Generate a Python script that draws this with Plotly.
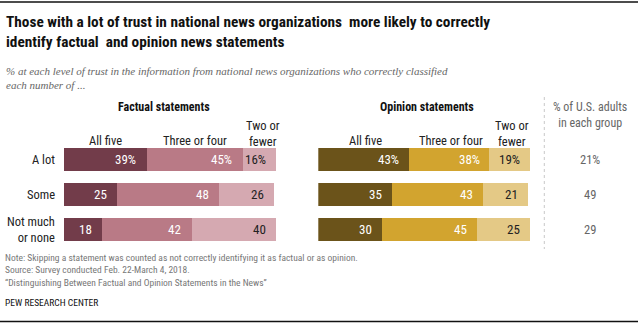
import plotly.graph_objects as go

# Trust levels (rows) and the share of U.S. adults in each group
trust_levels = ["A lot", "Some", "Not much<br>or none"]
group_share = ["21%", "49", "29"]

# Percent who correctly classified all five / three or four / two or fewer statements
factual_all_five = [39, 25, 18]
factual_three_four = [45, 48, 42]
factual_two_fewer = [16, 26, 40]

opinion_all_five = [43, 35, 30]
opinion_three_four = [38, 43, 45]
opinion_two_fewer = [19, 21, 25]

segment_names = ["All five", "Three or four", "Two or<br>fewer"]
factual_colors = ["#723c4a", "#b97a86", "#d5a9b1"]
opinion_colors = ["#6b531a", "#d2a42f", "#e4c986"]

W, H = 638, 325
LABEL_FONT = "Liberation Sans Narrow, Roboto Condensed, Arial Narrow, Liberation Sans, sans-serif"
TITLE_FONT = LABEL_FONT
SERIF = "Liberation Serif, DejaVu Serif, serif"


def px(x):
    return x / W


def py(y):
    return 1 - y / H


rows = list(range(len(trust_levels)))
fig = go.Figure()

panels = [
    ("x", "y", [factual_all_five, factual_three_four, factual_two_fewer], factual_colors),
    ("x2", "y2", [opinion_all_five, opinion_three_four, opinion_two_fewer], opinion_colors),
]

annotations = []
for xa, ya, series, colors in panels:
    for k, (vals, col) in enumerate(zip(series, colors)):
        fig.add_trace(go.Bar(
            x=vals, y=rows, orientation="h", marker=dict(color=col, line=dict(width=0)),
            width=0.63, xaxis=xa, yaxis=ya, showlegend=False, hoverinfo="skip",
        ))
    # value labels, right-aligned inside each segment
    for r in rows:
        cum = 0
        for k, vals in enumerate(series):
            cum += vals[r]
            txt = f"{vals[r]}%" if r == 0 else f"{vals[r]}"
            annotations.append(dict(
                x=cum, y=r, xref=xa, yref=ya, text=txt, showarrow=False,
                xanchor="right", yanchor="middle", xshift=-8,
                font=dict(family=LABEL_FONT, size=13,
                          color="#ffffff" if k < 2 else "#222222"),
            ))

fig.update_layout(
    barmode="stack",
    width=W, height=H,
    margin=dict(l=0, r=0, t=0, b=0),
    paper_bgcolor="white", plot_bgcolor="white",
    bargap=0,
    xaxis=dict(domain=[px(63.5), px(276)], range=[0, 100], visible=False, fixedrange=True),
    xaxis2=dict(domain=[px(318.3), px(530)], range=[0, 100], visible=False, fixedrange=True),
    yaxis=dict(domain=[py(247), py(142)], range=[2.5, -0.5], visible=False, fixedrange=True),
    yaxis2=dict(domain=[py(247), py(142)], range=[2.5, -0.5], visible=False,
                fixedrange=True, anchor="x2"),
)


def text(x, y, s, size=12, color="#222222", family=LABEL_FONT, xanchor="center",
         yanchor="middle", align="center"):
    annotations.append(dict(
        x=px(x), y=py(y), xref="paper", yref="paper", text=s, showarrow=False,
        xanchor=xanchor, yanchor=yanchor, align=align,
        font=dict(family=family, size=size, color=color),
    ))


# Title and subtitle
text(4, 32.5, "<b>Those with a lot of trust in national news organizations  more likely to correctly<br>"
              "identify factual  and opinion news statements</b>",
     size=15.3, color="#111111", family=TITLE_FONT, xanchor="left", align="left")
text(4, 78, "<i>% at each level of trust in the information from national news organizations who correctly classified<br>"
            "each number of ...</i>",
     size=11, color="#666666", family=SERIF, xanchor="left", align="left")

# Panel headers
text(164, 107, "<b>Factual statements</b>", size=12, color="#111111")
text(427, 107, "<b>Opinion statements</b>", size=12, color="#111111")

# Segment headers
for centers in ([105, 195, 263], [365, 451, 512]):
    for cx, name in zip(centers, segment_names):
        text(cx, 133.5 if "<br>" in name else 140, name, size=12.5)

# Row labels
for r, lab in zip(rows, trust_levels):
    text(57, 159.5 + 35 * r, lab, size=12.5, xanchor="right", align="right")

# Share of adults column
text(590, 115, "% of U.S. adults<br>in each group", size=12, color="#666666")
for r, val in zip(rows, group_share):
    text(590, 159.5 + 35 * r, val, size=12.5, color="#666666")

# Dotted divider
fig.add_shape(type="line", xref="paper", yref="paper", x0=px(544.3), x1=px(544.3),
              y0=py(97), y1=py(249), line=dict(color="#c8c8c8", width=1, dash="dot"))

# Top and bottom rules
fig.add_shape(type="line", xref="paper", yref="paper", x0=0, x1=1, y0=py(2), y1=py(2),
              line=dict(color="#111111", width=1.5))
fig.add_shape(type="line", xref="paper", yref="paper", x0=0, x1=1, y0=py(321.5), y1=py(321.5),
              line=dict(color="#111111", width=1.5))

# Notes
text(3, 269.5, "Note: Skipping a statement was counted as not correctly identifying it as factual or as opinion.<br>"
               "Source: Survey conducted Feb. 22-March 4, 2018.<br>"
               "\u201cDistinguishing Between Factual and Opinion Statements in the News\u201d",
     size=9.5, color="#777777", xanchor="left", align="left")
text(3, 302, "PEW RESEARCH CENTER", size=9.5, color="#111111", xanchor="left", align="left")

fig.update_layout(annotations=annotations)
fig.write_html("out.html")
